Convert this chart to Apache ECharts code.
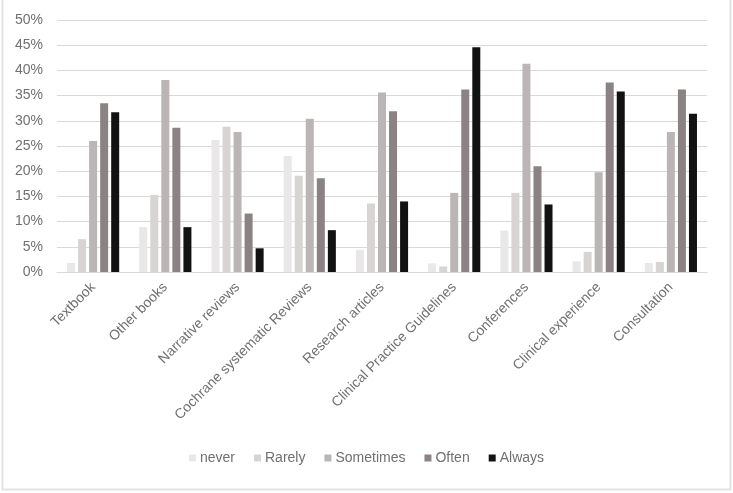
<!DOCTYPE html>
<html>
<head>
<meta charset="utf-8">
<script src="https://cdn.jsdelivr.net/npm/echarts@6/dist/echarts.min.js"></script>
<style>
  html, body { margin: 0; padding: 0; background: #fff; }
  #chart { width: 733px; height: 493px; }
</style>
</head>
<body>
<div id="chart"></div>
<script>
// categories on the x axis
const categories = [
  'Textbook', 'Other books', 'Narrative reviews', 'Cochrane systematic Reviews',
  'Research articles', 'Clinical Practice Guidelines', 'Conferences',
  'Clinical experience', 'Consultation'
];

// percentages
const never = [1.8, 8.9, 26.2, 23.0, 4.4, 1.7, 8.2, 2.1, 1.8];
const rarely = [6.5, 15.3, 28.8, 19.1, 13.6, 1.1, 15.7, 4.0, 2.0];
const sometimes = [26.0, 38.1, 27.8, 30.4, 35.6, 15.7, 41.3, 19.8, 27.8];
const often = [33.5, 28.6, 11.6, 18.6, 31.9, 36.2, 21.0, 37.6, 36.2];
const always = [31.7, 8.9, 4.7, 8.3, 14.0, 44.6, 13.4, 35.8, 31.4];

const seriesNames = ['never', 'Rarely', 'Sometimes', 'Often', 'Always'];
const seriesData = [never, rarely, sometimes, often, always];
const colors = ['#e9e7e7', '#d8d4d4', '#bbb5b5', '#8b8383', '#121212'];

const textColor = '#707070';
const font = 'Liberation Sans';

const chart = echarts.init(document.getElementById('chart'));

chart.setOption({
  animation: false,
  color: colors,
  graphic: [
    {
      // light frame around the picture
      type: 'rect',
      shape: { x: 2.5, y: -5, width: 728, height: 494.5 },
      style: { fill: 'none', stroke: '#e3e3e3', lineWidth: 2 },
      silent: true
    }
  ],
  grid: {
    left: 57,
    right: 26,
    top: 20,
    bottom: 221,
    containLabel: false
  },
  legend: {
    bottom: 23,
    left: 'center',
    icon: 'rect',
    itemWidth: 7,
    itemHeight: 7,
    itemGap: 19,
    textStyle: { color: textColor, fontSize: 14, fontFamily: font, padding: [0, 0, 0, -1] },
    data: seriesNames
  },
  xAxis: {
    type: 'category',
    data: categories,
    axisLine: { show: true, lineStyle: { color: '#d9d9d9', width: 1 } },
    axisTick: { show: false },
    axisLabel: {
      interval: 0,
      rotate: 45,
      margin: 13,
      color: textColor,
      fontSize: 14,
      fontFamily: font
    }
  },
  yAxis: {
    type: 'value',
    min: 0,
    max: 50,
    interval: 5,
    axisLine: { show: false },
    axisTick: { show: false },
    splitLine: { lineStyle: { color: '#d9d9d9', width: 1 } },
    axisLabel: {
      formatter: '{value}%',
      color: textColor,
      fontSize: 14,
      fontFamily: font,
      margin: 14
    }
  },
  series: seriesNames.map((name, i) => ({
    name: name,
    type: 'bar',
    data: seriesData[i],
    barWidth: 8,
    barGap: '38%',
    barCategoryGap: '28%'
  }))
});
</script>
</body>
</html>
